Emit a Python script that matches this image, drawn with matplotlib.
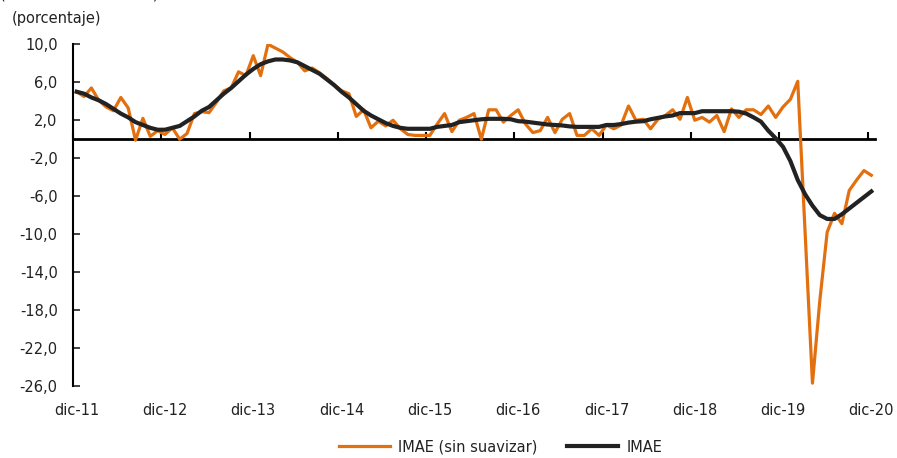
import numpy as np
import matplotlib
matplotlib.use("Agg")
from matplotlib import pyplot as plt

plt.rcParams['font.family'] = ['DejaVu Sans']

# monthly series, dic-11 .. dic-20
imae_raw = [5.0, 4.5, 5.4, 4.1, 3.4, 3.0, 4.4, 3.3, -0.1, 2.2, 0.3, 0.9,
            0.5, 1.2, 0.0, 0.6, 2.7, 2.9, 2.8, 3.9, 5.1, 5.4, 7.1, 6.7,
            8.8, 6.7, 10.0, 9.6, 9.2, 8.6, 8.1, 7.2, 7.5, 7.0, 6.4, 5.7,
            5.1, 4.8, 2.4, 3.1, 1.2, 1.9, 1.4, 2.0, 1.1, 0.5, 0.4, 0.4,
            0.4, 1.6, 2.7, 0.8, 2.0, 2.3, 2.7, 0.0, 3.1, 3.1, 1.8, 2.5,
            3.1, 1.6, 0.7, 0.9, 2.3, 0.7, 2.1, 2.7, 0.4, 0.4, 1.1, 0.4,
            1.5, 1.1, 1.5, 3.5, 2.0, 2.1, 1.1, 2.1, 2.5, 3.1, 2.1, 4.4,
            2.0, 2.3, 1.8, 2.5, 0.8, 3.2, 2.3, 3.1, 3.1, 2.6, 3.5, 2.3,
            3.4, 4.2, 6.1, -9.8, -25.7, -17.0, -9.8, -7.8, -8.9, -5.4, -4.3, -3.3,
            -3.8]
imae = [5.0, 4.8, 4.4, 4.1, 3.7, 3.2, 2.7, 2.3, 1.8, 1.5, 1.2, 1.0,
        1.0, 1.2, 1.4, 1.9, 2.4, 3.0, 3.4, 4.1, 4.8, 5.4, 6.1, 6.8,
        7.4, 7.9, 8.2, 8.4, 8.4, 8.3, 8.1, 7.7, 7.3, 6.9, 6.3, 5.7,
        5.0, 4.4, 3.7, 3.0, 2.5, 2.1, 1.7, 1.4, 1.2, 1.1, 1.1, 1.1,
        1.1, 1.3, 1.4, 1.5, 1.8, 1.9, 2.0, 2.1, 2.15, 2.15, 2.15, 2.1,
        1.9, 1.85, 1.75, 1.65, 1.55, 1.5, 1.45, 1.35, 1.3, 1.3, 1.3, 1.3,
        1.5, 1.5, 1.6, 1.75, 1.85, 1.9, 2.1, 2.25, 2.4, 2.5, 2.75, 2.75,
        2.75, 2.95, 2.95, 2.95, 2.95, 2.95, 2.9, 2.7, 2.3, 1.85, 0.9, 0.1,
        -0.8, -2.3, -4.3, -5.8, -7.0, -8.0, -8.4, -8.4, -7.9, -7.3, -6.7, -6.1,
        -5.5]
year_labels = ['dic-11', 'dic-12', 'dic-13', 'dic-14', 'dic-15',
               'dic-16', 'dic-17', 'dic-18', 'dic-19', 'dic-20']
y_ticks = [10, 6, 2, -2, -6, -10, -14, -18, -22, -26]

x = np.arange(len(imae_raw))
txt_color = '#222222'

fig = plt.figure(figsize=(8.97, 4.58), dpi=100)
ax = fig.add_axes([73/897, 1-386/458, (875-73)/897, (386-44.3)/458])

ax.plot(x, imae_raw, color='#E3700F', linewidth=2.3, label='IMAE (sin suavizar)', zorder=3)
ax.plot(x, imae, color='#222222', linewidth=3.0, label='IMAE', zorder=4)

ax.set_xlim(-0.5, len(x) - 0.5)
ax.set_ylim(-26, 10)

# y axis
ax.set_yticks(y_ticks)
ax.set_yticklabels([f"{v:.1f}".replace('.', ',') for v in y_ticks])
ax.tick_params(axis='y', direction='in', length=5, width=1.2, pad=11, labelsize=10.5,
               colors=txt_color)
ax.spines['left'].set_linewidth(1.5)

# x axis sits on zero
ax.spines['bottom'].set_position(('data', 0))
ax.spines['bottom'].set_linewidth(2)
ax.spines['top'].set_visible(False)
ax.spines['right'].set_visible(False)
ax.set_xticks(np.arange(-0.5, len(x), 12))
ax.tick_params(axis='x', direction='in', length=5, width=1.5, labelbottom=False)

sec = ax.secondary_xaxis('bottom')
sec.set_xticks(np.arange(0, len(x), 12))
sec.set_xticklabels(year_labels)
sec.spines['bottom'].set_visible(False)
sec.tick_params(axis='x', length=0, pad=12, labelsize=10.5, colors=txt_color)

fig.text(12/897, 1-18/458, '(porcentaje)', fontsize=10.5, va='center', ha='left', color=txt_color)
# subtitle that is cut off at the top edge of the reference image
fig.text(0/897, 1.003, '(variación interanual)', fontsize=10.5, va='baseline', ha='left',
         color=txt_color)

leg = fig.legend(loc='center', bbox_to_anchor=(0.558, 0.024), ncol=2, frameon=False,
                 fontsize=10.5, handlelength=3.5, handletextpad=0.6, columnspacing=2.0)
for t in leg.get_texts():
    t.set_color(txt_color)

plt.savefig('out.png', dpi=100)
